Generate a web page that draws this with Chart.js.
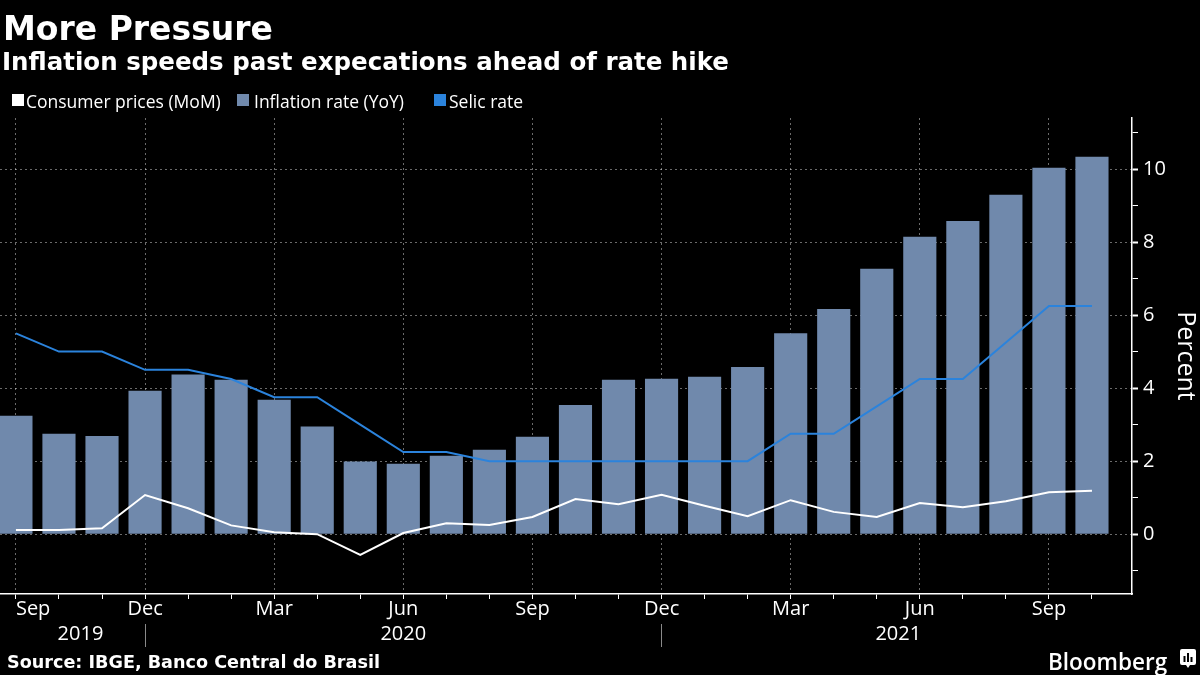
<!DOCTYPE html>
<html>
<head>
<meta charset="utf-8">
<script src="https://cdn.jsdelivr.net/npm/chart.js@4"></script>
<style>
  html, body { margin: 0; padding: 0; background: #000; }
  #wrap { position: relative; width: 1200px; height: 675px; overflow: hidden; background: #000; color: #fff; }
  #chart { position: absolute; left: 0; top: 0; }
  .t { position: absolute; white-space: nowrap; line-height: 1; z-index: 2; }
  #title { left: 3px; top: 9px; font: bold 33px 'DejaVu Sans', sans-serif; }
  #subtitle { left: 2px; top: 47px; font: bold 24.5px 'DejaVu Sans', sans-serif; }
  #source { left: 7px; top: 652px; font: bold 17.6px 'DejaVu Sans', sans-serif; }
  #brand { left: 1048px; top: 646px; font: 600 22.5px 'Open Sans', sans-serif; }
  #icon { position: absolute; left: 1179px; top: 648px; z-index: 2; }
  .lg-sq { position: absolute; width: 12px; height: 12px; top: 94px; z-index: 2; }
  .lg-tx { position: absolute; top: 92.5px; font: 17.5px 'Open Sans', sans-serif; line-height: 1; white-space: nowrap; z-index: 2; }
</style>
</head>
<body>
<div id="wrap">
  <canvas id="chart" width="1200" height="675"></canvas>
  <div class="t" id="title">More Pressure</div>
  <div class="t" id="subtitle">Inflation speeds past expecations ahead of rate hike</div>
  <div id="legend"></div>
  <div class="t" id="source">Source: IBGE, Banco Central do Brasil</div>
  <div class="t" id="brand">Bloomberg</div>
  <svg id="icon" width="18" height="22" viewBox="0 0 18 22">
    <path d="M3 1 H15 Q17 1 17 3 V15 Q17 17 15 17 H11 L9 20 L7 17 H3 Q1 17 1 15 V3 Q1 1 3 1 Z" fill="#fff"/>
    <rect x="4.5" y="8" width="2" height="6" fill="#000"/>
    <rect x="8" y="5" width="2" height="9" fill="#000"/>
    <rect x="11.5" y="9" width="2" height="5" fill="#000"/>
  </svg>
</div>
<script>
// ---- data ----
const months = ['Sep 2019','Oct 2019','Nov 2019','Dec 2019','Jan 2020','Feb 2020','Mar 2020','Apr 2020','May 2020','Jun 2020','Jul 2020','Aug 2020','Sep 2020','Oct 2020','Nov 2020','Dec 2020','Jan 2021','Feb 2021','Mar 2021','Apr 2021','May 2021','Jun 2021','Jul 2021','Aug 2021','Sep 2021','Oct 2021'];
const consumerPricesMoM = [0.11, 0.11, 0.16, 1.07, 0.71, 0.24, 0.05, 0.0, -0.57, 0.03, 0.30, 0.25, 0.47, 0.96, 0.82, 1.08, 0.78, 0.49, 0.93, 0.61, 0.47, 0.85, 0.74, 0.90, 1.15, 1.19];
const inflationYoY = [3.24, 2.75, 2.69, 3.93, 4.37, 4.23, 3.68, 2.95, 1.99, 1.93, 2.15, 2.31, 2.67, 3.54, 4.23, 4.26, 4.31, 4.58, 5.50, 6.17, 7.27, 8.15, 8.58, 9.30, 10.04, 10.34];
const selicRate = [5.5, 5.0, 5.0, 4.5, 4.5, 4.25, 3.75, 3.75, 3.0, 2.25, 2.25, 2.0, 2.0, 2.0, 2.0, 2.0, 2.0, 2.0, 2.75, 2.75, 3.5, 4.25, 4.25, 5.25, 6.25, 6.25];
const seriesNames = ['Consumer prices (MoM)', 'Inflation rate (YoY)', 'Selic rate'];
const quarterTickLabels = ['Sep','Dec','Mar','Jun','Sep','Dec','Mar','Jun','Sep'];
const yearLabels = ['2019','2020','2021'];
const yearLabelAt = [1.5, 9, 20.5];
const yearBreakAt = [3, 15];
const yTicks = [-1, 0, 1, 2, 3, 4, 5, 6, 7, 8, 9, 10, 11];
const yTickLabels = ['0','2','4','6','8','10'];

// ---- styles ----
const colors = ['#ffffff', '#7089ac', '#2b83dc'];
const gridColor = 'rgba(255,255,255,0.42)';

// legend (HTML)
const legendPos = [{sq: 12, tx: 26}, {sq: 237, tx: 254}, {sq: 434, tx: 449}];
const legend = document.getElementById('legend');
seriesNames.forEach((name, i) => {
  const sq = document.createElement('div');
  sq.className = 'lg-sq'; sq.style.left = legendPos[i].sq + 'px'; sq.style.background = colors[i];
  const tx = document.createElement('div');
  tx.className = 'lg-tx'; tx.style.left = legendPos[i].tx + 'px'; tx.textContent = name;
  legend.appendChild(sq); legend.appendChild(tx);
});

Chart.defaults.font.family = "'Open Sans', sans-serif";
Chart.defaults.color = '#fff';

const toXY = arr => arr.map((v, i) => ({x: i, y: v}));
const xMin = -0.37, xMax = 25.93;

new Chart(document.getElementById('chart'), {
  type: 'bar',
  data: {
    datasets: [
      { type: 'line', label: seriesNames[0], data: toXY(consumerPricesMoM), borderColor: colors[0], backgroundColor: colors[0], borderWidth: 2, pointRadius: 0, tension: 0, order: 1 },
      { type: 'bar', label: seriesNames[1], data: toXY(inflationYoY), backgroundColor: colors[1], barPercentage: 0.77, categoryPercentage: 1, order: 3 },
      { type: 'line', label: seriesNames[2], data: toXY(selicRate), borderColor: colors[2], backgroundColor: colors[2], borderWidth: 2, pointRadius: 0, tension: 0, order: 2 }
    ]
  },
  options: {
    responsive: false,
    animation: false,
    devicePixelRatio: 1,
    layout: { padding: { top: 118, left: 0, right: 0, bottom: 0 } },
    plugins: { legend: { display: false }, tooltip: { enabled: false }, title: { display: false } },
    scales: {
      x: {
        type: 'linear', position: 'bottom', min: xMin, max: xMax, offset: false,
        afterBuildTicks: s => { s.ticks = months.map((m, i) => ({value: i})); },
        afterFit: s => { s.height = 30; },
        grid: {
          offset: false,
          color: c => (c.tick && c.tick.value % 3 === 0) ? gridColor : 'rgba(0,0,0,0)',
          lineWidth: 1, tickColor: '#fff', tickLength: 5, tickWidth: 1
        },
        border: { display: true, color: '#fff', width: 1.5, dash: [2, 3] },
        ticks: {
          autoSkip: false, maxRotation: 0, minRotation: 0, padding: -2, align: 'inner', color: '#fff', font: { size: 20 },
          callback: v => (v % 3 === 0 ? quarterTickLabels[v / 3] : '')
        }
      },
      years: {
        type: 'linear', position: 'bottom', min: xMin, max: xMax, offset: false,
        afterBuildTicks: s => { s.ticks = yearLabelAt.concat(yearBreakAt).sort((a, b) => a - b).map(v => ({value: v})); },
        afterFit: s => { s.height = 51; },
        grid: {
          offset: false, drawOnChartArea: false, tickLength: 23, tickWidth: 1,
          tickColor: c => (c.tick && yearBreakAt.includes(c.tick.value)) ? '#8a8a8a' : 'rgba(0,0,0,0)'
        },
        border: { display: false },
        ticks: {
          autoSkip: false, maxRotation: 0, minRotation: 0, padding: -25, color: '#fff', font: { size: 20 },
          callback: v => { const k = yearLabelAt.indexOf(v); return k >= 0 ? yearLabels[k] : ''; }
        }
      },
      y: {
        type: 'linear', position: 'right', min: -1.64, max: 11.4,
        afterBuildTicks: s => { s.ticks = yTicks.map(v => ({value: v})); },
        afterFit: s => { s.width = 68; },
        grid: {
          color: c => (c.tick && c.tick.value >= 0 && c.tick.value % 2 === 0) ? gridColor : 'rgba(0,0,0,0)',
          lineWidth: 1, tickColor: '#fff', tickLength: 6,
          tickWidth: c => (c.tick && c.tick.value >= 0 && c.tick.value % 2 === 0) ? 2 : 1
        },
        border: { display: true, color: '#fff', width: 1.5, dash: [2, 3] },
        ticks: {
          padding: 5, color: '#fff', font: { size: 20 },
          callback: v => (v >= 0 && v % 2 === 0 ? yTickLabels[v / 2] : '')
        },
        title: { display: true, text: 'Percent', color: '#fff', font: { size: 25 }, padding: { top: 0, bottom: 0 } }
      }
    }
  }
});
</script>
</body>
</html>
